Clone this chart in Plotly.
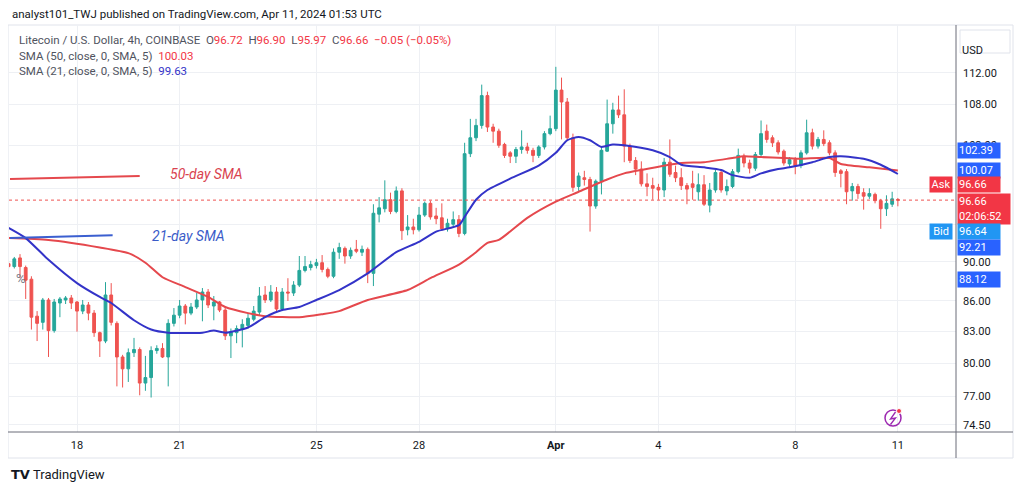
import numpy as np
import pandas as pd
import plotly.graph_objects as go

# LTC/USD 4h candles, Mar 16 00:00 UTC .. Apr 11 00:00 UTC
start = "2024-03-16 00:00"
opens = [89.8, 89.5, 90.4, 89.4, 88.2, 84.5, 83.9, 86.1, 83.1, 85.8,
         86.1, 86.3, 85.9, 85.0, 85.6, 84.8, 82.9, 82.1, 86.6, 83.8,
         80.6, 79.5, 81.0, 81.3, 78.2, 78.7, 81.2, 81.4, 80.6, 83.8,
         84.6, 85.5, 84.8, 85.4, 86.1, 86.9, 85.5, 85.9, 85.1, 82.6,
         82.9, 83.2, 83.6, 84.2, 84.9, 86.6, 86.1, 86.9, 85.2, 86.9,
         86.8, 87.6, 89.1, 89.4, 89.6, 89.9, 89.2, 88.5, 91.0, 91.4,
         90.6, 91.3, 91.0, 91.3, 88.8, 95.1, 95.7, 96.7, 95.4, 97.7,
         93.4, 93.7, 93.4, 95.0, 96.3, 94.9, 94.7, 93.5, 94.0, 94.5,
         93.0, 102.0, 103.9, 105.4, 109.1, 105.2, 104.7, 103.1, 102.1, 101.7,
         102.5, 102.8, 102.4, 101.8, 102.8, 104.4, 105.0, 109.8, 108.3, 103.9,
         98.2, 99.2, 99.0, 96.0, 98.8, 102.3, 105.6, 107.3, 106.7, 102.9,
         101.2, 100.2, 98.5, 98.3, 98.1, 97.8, 101.0, 99.8, 99.2, 98.3,
         98.5, 97.6, 98.4, 96.1, 97.8, 99.8, 97.7, 98.2, 99.9, 101.7,
         100.9, 100.3, 101.9, 104.7, 103.9, 103.3, 102.3, 100.8, 101.3, 100.6,
         102.1, 104.5, 102.9, 103.7, 103.3, 102.1, 100.0, 99.9, 97.7, 98.2,
         97.5, 97.1, 97.3, 96.6, 95.7, 96.2, 96.72]
highs = [90.0, 90.5, 90.8, 89.6, 88.5, 85.0, 86.3, 86.3, 86.2, 86.4,
         86.5, 86.6, 86.0, 86.1, 85.9, 85.1, 83.0, 87.9, 87.8, 84.0,
         80.8, 81.4, 82.4, 81.5, 80.7, 81.6, 81.7, 81.9, 84.2, 85.3,
         86.1, 85.7, 85.8, 86.8, 87.3, 87.2, 86.5, 86.0, 85.5, 83.3,
         83.6, 84.2, 84.8, 85.5, 87.4, 87.5, 87.6, 87.4, 87.3, 88.3,
         88.0, 90.6, 90.6, 90.1, 90.3, 90.7, 89.4, 91.4, 92.0, 91.6,
         91.5, 92.3, 91.7, 91.5, 96.2, 97.0, 98.9, 97.5, 98.2, 98.0,
         95.0, 94.6, 95.9, 96.5, 96.6, 95.8, 96.3, 94.6, 95.4, 95.0,
         103.3, 106.2, 106.2, 110.5, 109.6, 105.6, 105.0, 103.3, 102.3, 102.8,
         104.8, 103.3, 102.7, 103.0, 104.7, 106.6, 112.8, 111.4, 108.8, 104.4,
         99.8, 100.0, 99.3, 99.0, 102.9, 108.6, 108.2, 109.1, 109.9, 103.2,
         101.6, 101.1, 99.7, 99.2, 98.5, 101.5, 103.7, 100.6, 100.3, 98.6,
         100.0, 99.7, 99.5, 98.6, 100.1, 100.2, 99.0, 100.2, 102.6, 102.0,
         101.3, 102.2, 106.0, 105.5, 104.2, 103.6, 102.5, 101.6, 101.6, 102.4,
         106.1, 105.0, 104.0, 104.8, 103.6, 102.4, 100.2, 100.2, 98.6, 98.5,
         98.0, 98.0, 97.5, 96.8, 97.2, 97.6, 96.90]
lows = [89.3, 89.3, 88.3, 86.2, 83.2, 82.1, 83.2, 80.6, 82.9, 84.4,
        85.7, 85.2, 83.0, 84.7, 84.1, 82.5, 80.6, 81.9, 83.6, 77.9,
        77.8, 78.3, 80.6, 77.1, 77.5, 76.9, 80.9, 80.5, 77.9, 83.5,
        84.3, 83.7, 84.6, 85.2, 84.0, 85.3, 84.1, 84.9, 82.2, 80.5,
        81.9, 81.5, 83.3, 84.0, 84.6, 85.8, 85.9, 85.0, 85.0, 86.0,
        86.5, 87.4, 88.9, 89.1, 89.3, 88.9, 88.3, 88.3, 90.3, 89.8,
        90.3, 90.9, 90.6, 87.8, 87.5, 94.2, 95.3, 95.1, 95.2, 92.3,
        92.8, 92.9, 93.2, 94.8, 94.5, 94.0, 93.3, 93.2, 93.7, 92.6,
        92.8, 101.6, 103.5, 105.0, 104.6, 103.3, 102.7, 101.5, 100.9, 100.9,
        102.0, 102.0, 101.0, 101.5, 102.5, 104.2, 104.7, 103.7, 103.5, 97.6,
        97.7, 98.3, 93.2, 95.7, 97.3, 102.2, 104.4, 106.3, 101.0, 100.9,
        99.5, 98.2, 97.1, 96.7, 96.7, 97.0, 99.3, 98.7, 97.8, 96.2,
        96.7, 96.6, 96.0, 95.3, 97.5, 97.5, 97.2, 98.0, 99.7, 100.4,
        99.7, 100.0, 101.7, 103.3, 102.8, 101.9, 100.6, 100.4, 99.6, 100.3,
        101.9, 102.5, 102.6, 102.9, 101.8, 99.3, 98.1, 96.2, 96.6, 96.8,
        95.6, 96.8, 96.3, 93.5, 94.9, 95.9, 95.97]
closes = [89.5, 90.3, 89.5, 88.1, 84.4, 83.8, 86.1, 83.1, 85.9, 86.2,
          86.3, 85.8, 85.0, 85.6, 84.8, 82.9, 82.1, 86.6, 83.9, 80.6,
          79.5, 81.0, 81.3, 78.2, 78.7, 81.2, 81.4, 80.6, 83.8, 84.6,
          85.5, 84.8, 85.4, 86.1, 86.9, 85.6, 85.9, 85.1, 82.6, 83.0,
          83.3, 83.7, 84.3, 85.0, 86.5, 86.1, 86.9, 85.2, 86.9, 86.8,
          87.6, 89.1, 89.5, 89.7, 89.9, 89.2, 88.5, 91.0, 91.5, 90.6,
          91.2, 91.1, 91.3, 88.8, 95.2, 95.8, 96.7, 95.4, 97.7, 93.3,
          93.7, 93.4, 95.0, 96.3, 94.8, 94.6, 93.5, 94.1, 94.5, 93.0,
          102.0, 103.9, 105.4, 109.1, 105.2, 104.7, 103.0, 101.8, 101.7, 102.5,
          102.8, 102.4, 101.8, 102.8, 104.4, 105.0, 109.8, 108.3, 103.9, 98.1,
          99.4, 99.0, 96.0, 98.8, 102.4, 105.6, 107.3, 106.7, 102.9, 101.2,
          100.2, 98.5, 98.2, 98.0, 97.8, 101.0, 99.6, 99.2, 98.3, 97.9,
          98.1, 98.4, 96.2, 97.8, 99.8, 97.8, 98.2, 99.9, 101.8, 100.9,
          100.3, 101.9, 104.4, 103.7, 103.3, 102.2, 100.9, 101.3, 100.6, 102.1,
          104.5, 102.9, 103.7, 103.2, 102.1, 99.8, 99.7, 97.6, 98.2, 97.4,
          97.1, 97.4, 96.6, 95.7, 96.3, 96.8, 96.66]

# moving averages, read at some candle indexes
sma21_idx = [0, 3, 7, 12, 16, 18, 22, 25, 28, 34, 36, 38, 42, 45, 48, 51, 54, 58,
             63, 68, 72, 75, 79, 80, 82, 84, 88, 93, 96, 98, 100, 102, 104, 106, 108,
             113, 116, 118, 122, 125, 127, 130, 132, 135, 137, 141, 144, 146, 150, 153, 156]
sma21_val = [93.6, 92.5, 90.2, 87.8, 86.4, 85.8, 84.1, 83.2, 82.9, 82.9, 83.1, 82.9, 83.4, 84.4,
             85.1, 85.4, 86.1, 87.1, 88.8, 91.0, 92.1, 93.2, 93.9, 94.8, 96.7, 97.8, 99.1,
             100.6, 102.1, 103.6, 104.0, 103.6, 102.8, 103.1, 103.0, 102.4, 101.6, 100.7,
             100.4, 100.1, 99.5, 99.2, 99.7, 100.2, 100.4, 101.0, 101.6, 101.7, 101.4, 100.7, 99.63]
sma50_idx = [0, 7, 16, 21, 24, 27, 31, 35, 38, 42, 45, 51, 55, 58, 63, 70, 74, 79, 82,
             84, 86, 91, 96, 100, 105, 108, 111, 118, 122, 127, 129, 132, 136, 139, 144,
             146, 151, 156]
sma50_val = [92.5, 92.3, 91.5, 90.9, 89.9, 88.4, 87.4, 86.4, 85.4, 84.8, 84.5, 84.4, 84.7,
             85.0, 86.1, 87.1, 88.3, 89.7, 91.0, 92.0, 92.3, 94.7, 96.5, 97.6, 99.0, 99.7,
             100.1, 100.9, 101.0, 101.5, 101.7, 101.6, 101.5, 101.4, 101.5, 100.8, 100.4, 100.03]

# hand drawn trend lines and their captions
draw50_t = ["2024-03-16 01:00", "2024-03-19 20:00"]
draw50_p = [99.05, 99.4]
draw21_t = ["2024-03-16 01:00", "2024-03-19 01:00"]
draw21_p = [92.5, 92.8]
cap50 = ("2024-03-21 18:40", 99.6, "50-day SMA")
cap21 = ("2024-03-21 06:00", 92.7, "21-day SMA")

last_price = 96.66
ytick_vals = [74.5, 77, 80, 83, 86, 90, 94, 98, 103, 108, 112]
ytick_hidden = [94, 98]   # covered by the price tags in the screenshot
xtick_dates = ["2024-03-18", "2024-03-21", "2024-03-25", "2024-03-28",
               "2024-04-01", "2024-04-04", "2024-04-08", "2024-04-11"]
xtick_text = ["18", "21", "25", "28", "<b>Apr</b>", "4", "8", "11"]

# price tags on the right scale: text, value, colour, pixel shift (stacked)
tags = [("102.39", 102.39, "#2962ff", 0),
        ("100.07", 100.07, "#2962ff", 0),
        ("96.66", 96.66, "#f23645", 16),
        ("96.66<br>02:06:52", 96.66, "#f23645", 7),
        ("96.64", 96.64, "#2196f3", -31),
        ("92.21", 92.21, "#2962ff", -7),
        ("88.12", 88.12, "#2962ff", 0)]

times = pd.date_range(start, periods=len(opens), freq="4h")
x_range = [pd.Timestamp("2024-03-16 00:17"), pd.Timestamp("2024-04-12 16:48")]

# the page body has an 8px margin, so the figure is a little smaller and
# every layout position below is given in screenshot pixels
OFF = 8
W, H = 1024 - OFF, 491 - OFF
L, R, T, B = 9 - OFF, 1024 - 956, 25 - OFF, 491 - 432

def px(x):
    return (x - 9) / (956 - 9)

def py(y):
    return (432 - y) / (432 - 25)

UP, DOWN = "#26a69a", "#ef5350"
FONT = "Roboto"

fig = go.Figure()

fig.add_trace(go.Scatter(x=x_range, y=[last_price, last_price], mode="lines",
                         line=dict(color=DOWN, width=1, dash="dot"), hoverinfo="skip"))
fig.add_trace(go.Candlestick(
    x=times, open=opens, high=highs, low=lows, close=closes,
    increasing=dict(line=dict(color=UP, width=1), fillcolor=UP),
    decreasing=dict(line=dict(color=DOWN, width=1), fillcolor=DOWN),
    whiskerwidth=0, hoverinfo="skip"))
fig.add_trace(go.Scatter(x=times[sma50_idx], y=sma50_val, mode="lines",
                         line=dict(color="#e5484d", width=2, shape="spline", smoothing=0.6)))
fig.add_trace(go.Scatter(x=times[sma21_idx], y=sma21_val, mode="lines",
                         line=dict(color="#3333c8", width=2, shape="spline", smoothing=0.6)))
fig.add_trace(go.Scatter(x=pd.to_datetime(draw50_t), y=draw50_p, mode="lines",
                         line=dict(color="#e5484d", width=2)))
fig.add_trace(go.Scatter(x=pd.to_datetime(draw21_t), y=draw21_p, mode="lines",
                         line=dict(color="#3b5fd0", width=2)))

ann = []
ann.append(dict(x=cap50[0], y=np.log10(cap50[1]), text="<i>" + cap50[2] + "</i>",
                showarrow=False, font=dict(size=14, color="#d9434f", family=FONT)))
ann.append(dict(x=cap21[0], y=np.log10(cap21[1]), text="<i>" + cap21[2] + "</i>",
                showarrow=False, font=dict(size=14, color="#3a5bc8", family=FONT)))

for text, val, col, shift in tags:
    two = "<br>" in text
    ann.append(dict(xref="paper", x=1, xanchor="left", xshift=1, y=np.log10(val), yshift=shift,
                    yanchor="top" if two else "middle",
                    text=text, showarrow=False, align="left", bgcolor=col,
                    width=50 if two else 40, height=28 if two else 13, borderpad=1,
                    font=dict(size=11, color="white", family=FONT)))
for text, shift, col in [("Ask", 16, "#f23645"), ("Bid", -31, "#2196f3")]:
    ann.append(dict(xref="paper", x=1, xanchor="right", xshift=-3, y=np.log10(last_price),
                    yshift=shift, text=text, showarrow=False, bgcolor=col, width=20, height=13,
                    borderpad=1, font=dict(size=11, color="white", family=FONT)))

gray = "#50535e"
red = "#f23645"
line1 = ("Litecoin / U.S. Dollar, 4h, COINBASE  "
         f"O<span style='color:{red}'>96.72</span>  H<span style='color:{red}'>96.90</span>  "
         f"L<span style='color:{red}'>95.97</span>  C<span style='color:{red}'>96.66</span>  "
         f"<span style='color:{red}'>−0.05 (−0.05%)</span>")
line2 = f"SMA (50, close, 0, SMA, 5)  <span style='color:{red}'>100.03</span>"
line3 = "SMA (21, close, 0, SMA, 5)  <span style='color:#3333c8'>99.63</span>"
for text, y in [(line1, 40), (line2, 56), (line3, 71)]:
    ann.append(dict(xref="paper", yref="paper", x=px(17), y=py(y), xanchor="left",
                    yanchor="middle", text=text, showarrow=False,
                    font=dict(size=11.5, color=gray, family=FONT)))

ann.append(dict(xref="paper", yref="paper", x=px(10), y=py(14), xanchor="left", yanchor="middle",
                text="analyst101_TWJ published on TradingView.com, Apr 11, 2024 01:53 UTC",
                showarrow=False, font=dict(size=11.5, color="#131722", family=FONT)))
ann.append(dict(xref="paper", yref="paper", x=px(9), y=py(474), xanchor="left", yanchor="middle",
                text="<b>TV</b>", showarrow=False,
                font=dict(size=13, color="#131722", family="DejaVu Sans")))
ann.append(dict(xref="paper", yref="paper", x=px(31), y=py(474), xanchor="left", yanchor="middle",
                text="TradingView", showarrow=False,
                font=dict(size=13, color="#131722", family=FONT)))
ann.append(dict(xref="paper", yref="paper", x=px(985), y=py(41.5), text="USD", showarrow=False,
                font=dict(size=11, color="#131722", family=FONT)))
ann.append(dict(xref="paper", yref="paper", x=px(14), y=py(278), text="%", showarrow=False,
                font=dict(size=13, color="#787b86", family=FONT)))

bolt = [(895.5, 412), (890.5, 419), (895.5, 418), (890.5, 424.5)]
bolt_path = "M " + " L ".join(f"{px(a):.5f},{py(b):.5f}" for a, b in bolt)

shapes = [
    dict(type="rect", xref="paper", yref="paper", x0=px(8), x1=px(1013), y0=py(458), y1=py(25),
         line=dict(color="#e0e3eb", width=1), layer="below"),
    dict(type="line", xref="paper", yref="paper", x0=px(8), x1=px(1013), y0=0, y1=0,
         line=dict(color="#6a6d78", width=1)),
    dict(type="line", xref="paper", yref="paper", x0=1, x1=1, y0=py(458), y1=py(25),
         line=dict(color="#6a6d78", width=1)),
    dict(type="rect", xref="paper", yref="paper", x0=px(960), x1=px(1010), y0=py(53), y1=py(30),
         line=dict(color="#e0e3eb", width=1)),
    dict(type="circle", xref="paper", yref="paper", x0=px(885), x1=px(901), y0=py(426), y1=py(410),
         line=dict(color="#9c27b0", width=1.5)),
    dict(type="path", xref="paper", yref="paper", path=bolt_path,
         line=dict(color="#9c27b0", width=1.3)),
    dict(type="circle", xref="paper", yref="paper", x0=px(896.5), x1=px(901.5), y0=py(413.5),
         y1=py(408.5), fillcolor="#f23645", line=dict(color="white", width=1)),
]

fig.update_layout(
    width=W, height=H, margin=dict(l=L, r=R, t=T, b=B),
    paper_bgcolor="white", plot_bgcolor="white", showlegend=False,
    annotations=ann, shapes=shapes,
    font=dict(family=FONT, size=11, color="#131722"),
    xaxis=dict(type="date", range=x_range, rangeslider=dict(visible=False),
               tickvals=pd.to_datetime(xtick_dates), ticktext=xtick_text,
               showgrid=True, gridcolor="#eef0f4", gridwidth=1, zeroline=False,
               showline=False, ticks="", ticklabelstandoff=5,
               tickfont=dict(size=11, color="#131722")),
    yaxis=dict(type="log", side="right", range=[np.log10(73.89), np.log10(118.4)],
               tickvals=ytick_vals,
               ticktext=["" if v in ytick_hidden else f"{v:.2f}" for v in ytick_vals],
               showgrid=True, gridcolor="#eef0f4", gridwidth=1, zeroline=False,
               showline=False, ticks="", ticklabelstandoff=6,
               tickfont=dict(size=11, color="#131722")),
)

fig.write_html("out.html")
